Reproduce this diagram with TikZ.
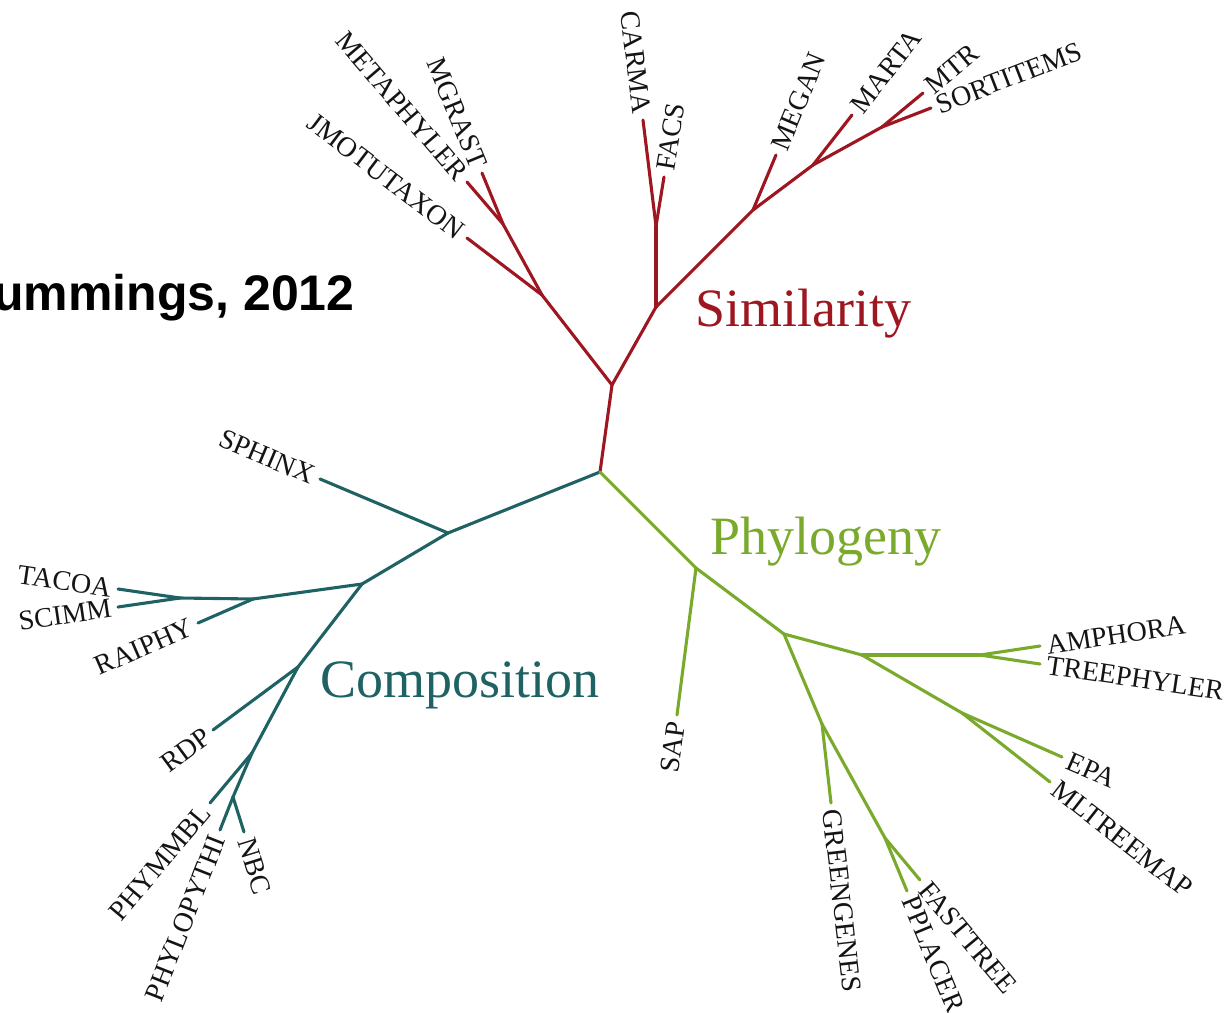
\documentclass[tikz,border=0pt]{standalone}
\usepackage{fontspec}
\setmainfont{Liberation Serif}
\newfontfamily\titlefont{Liberation Sans}
\definecolor{simred}{RGB}{158,22,32}
\definecolor{compteal}{RGB}{30,98,100}
\definecolor{phylgreen}{RGB}{122,170,44}

\begin{document}
\begin{tikzpicture}[
  x=0.5pt, y=-0.5pt,
  every node/.style={font=\fontsize{14}{16}\selectfont},
  leaf/.style={inner sep=3.2pt, text=black!92},
  group/.style={inner sep=0pt, anchor=base west, font=\fontsize{27}{32}\selectfont},
  branch/.style={line width=1.55pt, line cap=round, line join=round},
  simb/.style={branch, draw=simred},
  compb/.style={branch, draw=compteal},
  phylb/.style={branch, draw=phylgreen}
]
\useasboundingbox (0,0) rectangle (1228,1013);

%% Title
\node[inner sep=0pt, anchor=base east, font=\titlefont\bfseries\fontsize{25}{30}\selectfont]
  (title) at (355,310) {ummings, 2012};

%% Inner nodes
\coordinate (root) at (600,472);
% similarity
\coordinate (r1)  at (612,385);
\coordinate (r2)  at (542,295);
\coordinate (r2a) at (503,224);
\coordinate (r3)  at (656,307);
\coordinate (r3a) at (656,226);
\coordinate (r4)  at (753,210);
\coordinate (r5)  at (813,165);
\coordinate (r6)  at (882,127);
% composition
\coordinate (c1) at (448,533);
\coordinate (c2) at (362,584);
\coordinate (c3) at (253,599);
\coordinate (c4) at (180,598);
\coordinate (c5) at (298,667);
\coordinate (c6) at (252,753);
\coordinate (c7) at (233,797);
% phylogeny
\coordinate (g1) at (696,568);
\coordinate (g2) at (784,634);
\coordinate (g3) at (862,655);
\coordinate (g4) at (980,655);
\coordinate (g5) at (822,724);
\coordinate (g6) at (885,838);
\coordinate (g7) at (962,713);

%% Leaf tips
\coordinate (jmot-t)  at (467,238);
\coordinate (meta-t)  at (467,182);
\coordinate (mgra-t)  at (482,173);
\coordinate (carm-t)  at (643,120);
\coordinate (facs-t)  at (664,177);
\coordinate (mega-t)  at (776,155);
\coordinate (mart-t)  at (852,115);
\coordinate (mtr-t)   at (923,93);
\coordinate (sort-t)  at (931,108);
\coordinate (sphx-t)  at (320,479);
\coordinate (taco-t)  at (118,589);
\coordinate (scim-t)  at (118,607);
\coordinate (raip-t)  at (198,623);
\coordinate (rdp-t)   at (213,730);
\coordinate (phym-t)  at (210,803);
\coordinate (phyl-t)  at (220,830);
\coordinate (nbc-t)   at (244,832);
\coordinate (sap-t)   at (677,715);
\coordinate (gree-t)  at (831,803);
\coordinate (fast-t)  at (920,880);
\coordinate (ppla-t)  at (907,891);
\coordinate (amph-t)  at (1040,646);
\coordinate (tree-t)  at (1040,664);
\coordinate (epa-t)   at (1062,757);
\coordinate (mltr-t)  at (1050,782);

%% Leaf labels
\node[leaf, anchor=east, rotate=-37.2] (jmot) at (jmot-t) {JMOTUTAXON};
\node[leaf, anchor=east, rotate=-49.4] (meta) at (meta-t) {METAPHYLER};
\node[leaf, anchor=east, rotate=-67.6] (mgra) at (mgra-t) {MGRAST};
\node[leaf, anchor=east, rotate=-83]   (carm) at (carm-t) {CARMA};
\node[leaf, anchor=west, rotate=80.7]  (facs) at (facs-t) {FACS};
\node[leaf, anchor=west, rotate=67.3]  (mega) at (mega-t) {MEGAN};
\node[leaf, anchor=west, rotate=52]    (mart) at (mart-t) {MARTA};
\node[leaf, anchor=west, rotate=39.7]  (mtr)  at (mtr-t)  {MTR};
\node[leaf, anchor=west, rotate=21.2]  (sort) at (sort-t) {SORTITEMS};
\node[leaf, anchor=east, rotate=-22.9] (sphx) at (sphx-t) {SPHINX};
\node[leaf, anchor=east, rotate=-8.3]  (taco) at (taco-t) {TACOA};
\node[leaf, anchor=east, rotate=8.3]   (scim) at (scim-t) {SCIMM};
\node[leaf, anchor=east, rotate=23.6]  (raip) at (raip-t) {RAIPHY};
\node[leaf, anchor=east, rotate=36.5]  (rdp)  at (rdp-t)  {RDP};
\node[leaf, anchor=east, rotate=50]    (phym) at (phym-t) {PHYMMBL};
\node[leaf, anchor=east, rotate=68.5]  (phyl) at (phyl-t) {PHYLOPYTHI};
\node[leaf, anchor=west, rotate=-72.6] (nbc)  at (nbc-t)  {NBC};
\node[leaf, anchor=east, rotate=82.6]  (sap)  at (sap-t)  {SAP};
\node[leaf, anchor=west, rotate=-83.5] (gree) at (gree-t) {GREENGENES};
\node[leaf, anchor=west, rotate=-50.2] (fast) at (fast-t) {FASTTREE};
\node[leaf, anchor=west, rotate=-67.5] (ppla) at (ppla-t) {PPLACER};
\node[leaf, anchor=west, rotate=8.5]   (amph) at (amph-t) {AMPHORA};
\node[leaf, anchor=west, rotate=-8.5]  (tree) at (tree-t) {TREEPHYLER};
\node[leaf, anchor=west, rotate=-23.7] (epa)  at (epa-t)  {EPA};
\node[leaf, anchor=west, rotate=-38.1] (mltr) at (mltr-t) {MLTREEMAP};

%% Group names
\node[group, text=simred]    (simil) at (695,326) {Similarity};
\node[group, text=phylgreen] (phylo) at (710,554) {Phylogeny};
\node[group, text=compteal]  (compo) at (320,697) {Composition};

%% Similarity branches
\draw[simb] (root) -- (r1);
\draw[simb] (r1)  -- (r2);
\draw[simb] (r2)  -- (jmot-t);
\draw[simb] (r2)  -- (r2a);
\draw[simb] (r2a) -- (meta-t);
\draw[simb] (r2a) -- (mgra-t);
\draw[simb] (r1)  -- (r3);
\draw[simb] (r3)  -- (r3a);
\draw[simb] (r3a) -- (carm-t);
\draw[simb] (r3a) -- (facs-t);
\draw[simb] (r3)  -- (r4);
\draw[simb] (r4)  -- (mega-t);
\draw[simb] (r4)  -- (r5);
\draw[simb] (r5)  -- (mart-t);
\draw[simb] (r5)  -- (r6);
\draw[simb] (r6)  -- (mtr-t);
\draw[simb] (r6)  -- (sort-t);

%% Composition branches
\draw[compb] (root) -- (c1);
\draw[compb] (c1) -- (sphx-t);
\draw[compb] (c1) -- (c2);
\draw[compb] (c2) -- (c3);
\draw[compb] (c3) -- (raip-t);
\draw[compb] (c3) -- (c4);
\draw[compb] (c4) -- (taco-t);
\draw[compb] (c4) -- (scim-t);
\draw[compb] (c2) -- (c5);
\draw[compb] (c5) -- (rdp-t);
\draw[compb] (c5) -- (c6);
\draw[compb] (c6) -- (phym-t);
\draw[compb] (c6) -- (c7);
\draw[compb] (c7) -- (phyl-t);
\draw[compb] (c7) -- (nbc-t);

%% Phylogeny branches
\draw[phylb] (root) -- (g1);
\draw[phylb] (g1) -- (sap-t);
\draw[phylb] (g1) -- (g2);
\draw[phylb] (g2) -- (g5);
\draw[phylb] (g5) -- (gree-t);
\draw[phylb] (g5) -- (g6);
\draw[phylb] (g6) -- (fast-t);
\draw[phylb] (g6) -- (ppla-t);
\draw[phylb] (g2) -- (g3);
\draw[phylb] (g3) -- (g4);
\draw[phylb] (g4) -- (amph-t);
\draw[phylb] (g4) -- (tree-t);
\draw[phylb] (g3) -- (g7);
\draw[phylb] (g7) -- (epa-t);
\draw[phylb] (g7) -- (mltr-t);

\end{tikzpicture}
\end{document}
